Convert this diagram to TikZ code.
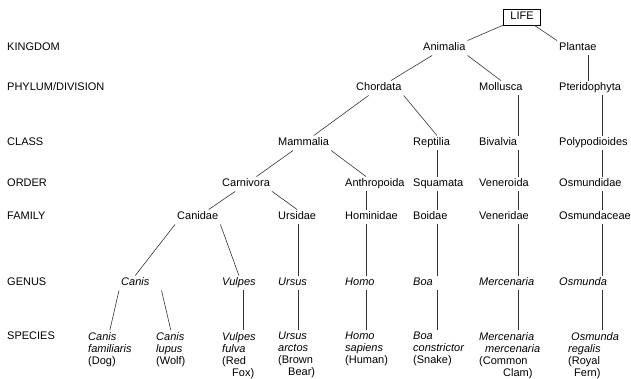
\documentclass[tikz,border=0pt]{standalone}
\usepackage{fontspec}
\setmainfont{Liberation Sans}

\begin{document}
\begin{tikzpicture}[x=1pt, y=-1pt,
  every node/.style={font=\fontsize{11}{12}\selectfont, inner sep=2pt},
  taxon/.style={anchor=west, text height=8pt, text depth=2.5pt},
  genus/.style={taxon, font=\fontsize{11}{12}\selectfont\itshape},
  species/.style={anchor=north west, align=left},
  lifebox/.style={draw, text height=8pt, text depth=2.5pt, inner xsep=7pt, inner ysep=3pt},
  edge/.style={draw=black!80, line width=0.6pt}]
  \useasboundingbox (0,0) rectangle (631,379);
  % Rank labels
  \foreach \n/\y/\t in {kingdom/48/KINGDOM, phylum/88/PHYLUM\slash DIVISION, class/143/CLASS,
      order/184/ORDER, family/217/FAMILY, genus/283/GENUS, species/337/SPECIES}
    \node[taxon] (\n) at (5,\y) {\t};
  % Taxa
  \node[lifebox] (life) at (522,17) {LIFE};
  \foreach \n/\x/\t in {animalia/421/Animalia, plantae/557/Plantae}
    \node[taxon] (\n) at (\x,48) {\t};
  \foreach \n/\x/\t in {chordata/354/Chordata, mollusca/477/Mollusca, pteridophyta/557/Pteridophyta}
    \node[taxon] (\n) at (\x,88) {\t};
  \foreach \n/\x/\t in {mammalia/276/Mammalia, reptilia/411/Reptilia, bivalvia/477/Bivalvia,
      polypodioides/557/Polypodioides}
    \node[taxon] (\n) at (\x,143) {\t};
  \foreach \n/\x/\t in {carnivora/220/Carnivora, anthropoida/343/Anthropoida, squamata/411/Squamata,
      veneroida/477/Veneroida, osmundidae/557/Osmundidae}
    \node[taxon] (\n) at (\x,184) {\t};
  \foreach \n/\x/\t in {canidae/175/Canidae, ursidae/276/Ursidae, hominidae/343/Hominidae,
      boidae/411/Boidae, veneridae/477/Veneridae, osmundaceae/557/Osmundaceae}
    \node[taxon] (\n) at (\x,217) {\t};
  \foreach \n/\x/\t in {canis/119/Canis, vulpes/220/Vulpes, ursus/276/Ursus, homo/343/Homo,
      boa/411/Boa, mercenaria/477/Mercenaria, osmunda/557/Osmunda}
    \node[genus] (\n) at (\x,283) {\t};
  % Species
  \node[species] (familiaris) at (86,330) {\textit{Canis}\\\textit{familiaris}\\(Dog)};
  \node[species] (lupus) at (154,330) {\textit{Canis}\\\textit{lupus}\\(Wolf)};
  \node[species] (fulva) at (220,330) {\textit{Vulpes}\\\textit{fulva}\\(Red\\\hspace*{10pt}Fox)};
  \node[species] (arctos) at (276,330) {\textit{Ursus}\\\textit{arctos}\\(Brown\\\hspace*{10pt}Bear)};
  \node[species] (sapiens) at (343,330) {\textit{Homo}\\\textit{sapiens}\\(Human)};
  \node[species] (constrictor) at (411,330) {\textit{Boa}\\\textit{constrictor}\\(Snake)};
  \node[species] (merc) at (477,330) {\textit{Mercenaria}\\\hspace*{6pt}\textit{mercenaria}\\(Common\\\hspace*{24pt}Clam)};
  \node[species] (regalis) at (566,330) {\hspace*{3pt}\textit{Osmunda}\\\textit{regalis}\\(Royal\\\hspace*{6pt}Fern)};
  % Columns of vertical lines
  \foreach \n/\x in {colvul/243, colurs/298, colhom/366, colrep/437, colmol/518, colpla/588, colfern/602}
    \coordinate (\n) at (\x,0);
  % Branches
  \foreach \a/\b in {life/animalia.north east, life/plantae.north west, animalia/chordata,
      animalia.south east/mollusca.north, chordata/mammalia, chordata.south east/reptilia.north -| colrep,
      mammalia/carnivora, mammalia.south east/anthropoida.north -| colhom, carnivora/canidae,
      carnivora.south east/ursidae.north, canidae.south west/canis.north, canidae.south east/vulpes.north,
      canis.south west/familiaris.north}
    \draw[edge] (\a) -- (\b);
  \draw[edge] ([xshift=10pt]canis.south east) -- (lupus.north);
  \foreach \a/\b/\c in {plantae/pteridophyta/colpla,
      pteridophyta/polypodioides/colfern, polypodioides/osmundidae/colfern, osmundidae/osmundaceae/colfern,
      osmundaceae/osmunda/colfern, osmunda/regalis/colfern,
      mollusca/bivalvia/colmol, bivalvia/veneroida/colmol, veneroida/veneridae/colmol,
      veneridae/mercenaria/colmol, mercenaria/merc/colmol,
      reptilia/squamata/colrep, squamata/boidae/colrep, boidae/boa/colrep, boa/constrictor/colrep,
      anthropoida/hominidae/colhom, hominidae/homo/colhom, homo/sapiens/colhom,
      ursidae/ursus/colurs, ursus/arctos/colurs, vulpes/fulva/colvul}
    \draw[edge] (\a.south -| \c) -- (\b.north -| \c);
\end{tikzpicture}
\end{document}
